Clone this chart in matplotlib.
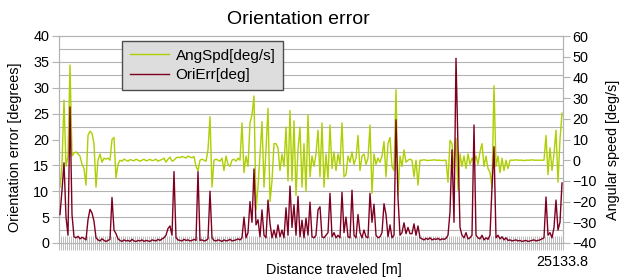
import matplotlib
matplotlib.use('Agg')
import matplotlib.pyplot as plt
import numpy as np
from matplotlib.ticker import MultipleLocator, FixedLocator

plt.rcParams['font.family'] = ['Liberation Sans', 'DejaVu Sans']

# Orientation error [deg] (left axis)
ori_err = [
    5.5, 10.2, 15.5, 5.0, 1.5, 26.3, 5.5, 1.2, 1.0, 1.3,
    0.8, 1.1, 0.9, 0.6, 4.5, 6.5, 5.8, 4.2, 1.0, 0.6,
    0.4, 0.8, 0.5, 0.3, 0.5, 0.7, 8.8, 2.5, 1.8, 0.8,
    0.5, 0.3, 0.6, 0.4, 0.5, 0.3, 0.7, 0.4, 0.3, 0.5,
    0.4, 0.6, 0.3, 0.5, 0.4, 0.3, 0.6, 0.5, 0.4, 0.7,
    0.5, 0.8, 1.0, 1.5, 2.8, 3.3, 1.5, 13.8, 1.0, 0.6,
    0.5, 0.4, 0.7, 0.5, 0.6, 0.4, 0.5, 0.7, 0.5, 13.8,
    0.5, 0.6, 0.4, 0.5, 0.8, 10.0, 1.0, 0.5, 0.4, 0.6,
    0.5, 0.3, 0.6, 0.4, 0.5, 0.7, 0.4, 0.5, 0.6, 0.8,
    0.6, 1.0, 5.0, 1.0, 2.0, 8.0, 4.0, 14.3, 3.5, 4.5,
    1.2, 6.4, 1.5, 1.0, 8.3, 3.8, 1.0, 2.5, 1.0, 3.5,
    1.2, 2.5, 1.0, 6.8, 1.5, 11.0, 3.0, 7.4, 1.5, 9.0,
    1.2, 4.4, 1.0, 4.8, 1.5, 7.9, 1.2, 1.0, 1.5, 6.4,
    7.0, 1.2, 1.0, 1.5, 2.0, 9.6, 1.2, 2.0, 1.0, 1.5,
    1.0, 9.8, 2.0, 5.0, 1.2, 1.0, 10.2, 1.5, 1.0, 5.5,
    2.0, 1.0, 2.5, 1.2, 1.0, 9.6, 4.0, 7.5, 1.5, 1.0,
    1.2, 2.0, 7.6, 5.5, 1.2, 3.5, 1.0, 1.5, 23.8, 8.7,
    1.5, 2.0, 3.9, 1.8, 3.0, 1.8, 1.8, 3.7, 1.5, 3.3,
    1.0, 0.8, 0.6, 0.9, 0.7, 1.0, 0.6, 0.8, 0.7, 0.9,
    0.6, 0.8, 0.7, 0.9, 1.5, 6.0, 18.0, 4.0, 35.7, 18.5,
    3.0, 1.5, 1.0, 2.0, 0.8, 1.0, 1.5, 22.8, 1.5, 1.0,
    0.8, 1.5, 0.6, 1.0, 0.7, 1.5, 10.8, 18.6, 1.0, 1.5,
    0.8, 1.2, 0.6, 1.0, 0.5, 0.6, 0.4, 0.5, 0.6, 0.4,
    0.5, 0.3, 0.4, 0.5, 0.3, 0.4, 0.5, 0.6, 0.4, 0.5,
    0.6, 0.8, 1.0, 8.9, 1.5, 2.0, 1.0, 3.0, 8.3, 2.5,
    4.0, 11.6,
]

# Angular speed [deg/s] (right axis)
ang_spd = [
    -13, -2, 29, -3, 2, 46, 2, 3.5, 4, 3,
    2, -2, -4, -12, 12, 14, 13, 8, -13, 0,
    3, -1, 1, 0.5, 1, 0, 10, 11, -8.5, -2,
    0, -0.5, 0.5, 0, -0.5, 0.3, 0, -0.3, 0.5, 0,
    -0.5, 0, 0.5, -0.3, 0, 0.4, -0.2, 0, 0.5, -0.5,
    0, 0.3, 1, -1, 0.5, 1.5, -0.5, 0, 1, 1.5,
    1.2, 1.8, 1.5, 1, 2, 1.5, 1.2, 1.8, -3, -5,
    0, 0.5, 0, -0.5, 5, 21, -13, 0, 0.5, 0,
    -0.5, 1, -5, 2, -2, -3, 0, 0.5, -0.5, 1,
    0, 18, -6, 2, -3, 18, 22, 31, -24, -13,
    3, 18.6, -13, 5, 25, -20, -10, 8, 8, 6,
    -5, 3, -3, 16, -10, 24, -10, 19, -17, 5,
    16, -13, 8, -15, 22, -8, 2, -3, 3, 14.5,
    -8, 18, -13, 3, -9, 17, -4, 4, -5, 3,
    -2, 18, -8, -7, 2, -1, 4, -2, 1, 12,
    -5, 2, 3, -2, 1, 17, -16, 3, -2, 1,
    -1, 2, 9, -8, 8, 11, -3, -5, 34, -17,
    2, -3, 5, -1, 0, 0.5, 0, -8, 0, -12,
    0, 0, 0.2, 0, -0.2, 0, 0, 0.2, 0, 0,
    0, -0.2, 0, 0, -10.6, 9.6, 8, -4, 10.6, -14.5,
    3, -3, 2, -4, 3, -2, 1, -1, 2, -2,
    4, 8, -3, 2, -4, -6, -13, 36, -3, 2,
    -6, 1, -5, 0, -4, 0, 0, 0, 0.2, 0,
    0, 0, -0.2, 0, 0, 0, 0.2, 0, 0, 0,
    0, 0, 0, 12, -7, 6, -5, 3, 14.5, -10.6,
    10, 22.7,
]

last_label = "25133.8"
series_names = ["AngSpd[deg/s]", "OriErr[deg]"]

GRAY = '#b3b3b3'
n = len(ori_err)
x = np.arange(n)

W, H = 621, 280
fig = plt.figure(figsize=(W / 100, H / 100), dpi=100)
ax = fig.add_axes([59 / W, 37 / H, 504 / W, 207 / H])
ax2 = ax.twinx()

ax.set_zorder(2)
ax2.set_zorder(1)
ax.patch.set_visible(False)
ax2.patch.set_visible(True)
ax2.patch.set_facecolor('white')

l_ori, = ax.plot(x, ori_err, color='#7e0021', lw=1.0, zorder=3)
l_ang, = ax2.plot(x, ang_spd, color='#aecf00', lw=1.0, zorder=3)

ax.set_xlim(-0.5, n - 0.5)
ax.set_ylim(0, 40)
ax2.set_ylim(-40, 60)

# left axis
ax.yaxis.set_major_locator(MultipleLocator(5))
ax.tick_params(axis='y', which='major', length=5, color=GRAY, labelsize=10.4, pad=2)
# right axis
ax2.yaxis.set_major_locator(MultipleLocator(10))
ax2.tick_params(axis='y', which='major', length=5, color=GRAY, labelsize=10.4, pad=2)
# horizontal grid (every 2.5 on left scale) drawn beneath the lines
ax2.yaxis.set_minor_locator(FixedLocator(np.linspace(-40, 60, 17)))
ax2.tick_params(axis='y', which='minor', length=0)
ax2.grid(True, which='minor', axis='y', color=GRAY, lw=0.8)
ax2.set_axisbelow(True)

# x axis: category ticks + last label
ax.set_axisbelow(True)
ax.xaxis.set_minor_locator(FixedLocator(np.arange(-0.5, n, 1.0)))
ax.set_xticks([n - 1])
ax.set_xticklabels([last_label])
ax.tick_params(axis='x', which='minor', direction='inout', length=10, width=0.6, color=GRAY)
ax.tick_params(axis='x', which='major', length=0, labelsize=10.4, pad=9)

for a in (ax, ax2):
    for s in a.spines.values():
        s.set_color(GRAY)
        s.set_linewidth(0.8)

leg = ax.legend([l_ang, l_ori], series_names, loc='upper left',
                bbox_to_anchor=(122 / W, 1 - 41 / H), bbox_transform=fig.transFigure,
                borderaxespad=0, fontsize=11, handlelength=2.6, handletextpad=0.4,
                borderpad=0.5, labelspacing=0.35, fancybox=False, framealpha=1)
leg.get_frame().set_facecolor('#dddddd')
leg.get_frame().set_edgecolor('#4d4d4d')
leg.get_frame().set_linewidth(1.0)

fig.text(298 / W, 1 - 20 / H, 'Orientation error', ha='center', va='center', fontsize=14)
fig.text(334 / W, 1 - 270 / H, 'Distance traveled [m]', ha='center', va='center', fontsize=10.4)
fig.text(15 / W, 1 - 147 / H, 'Orientation error [degrees]', rotation=90,
         ha='center', va='center', fontsize=10.4)
fig.text(613 / W, 1 - 150 / H, 'Angular speed [deg/s]', rotation=90,
         ha='center', va='center', fontsize=10.4)

fig.savefig('out.png', dpi=100)
